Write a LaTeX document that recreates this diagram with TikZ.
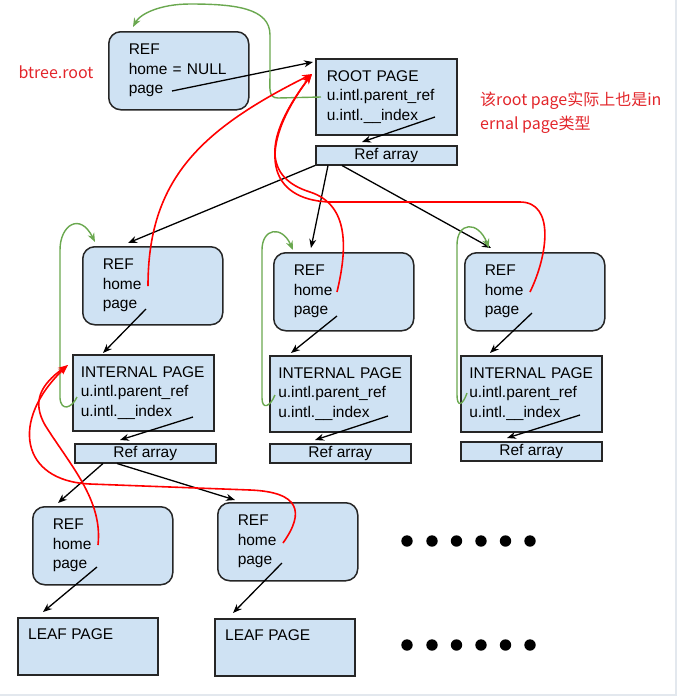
\documentclass[tikz,border=0pt]{standalone}
\usepackage{fontspec}
\setmainfont{Liberation Sans}
\newfontfamily\cjk{Noto Sans CJK SC}
\usetikzlibrary{arrows.meta,calc}
\definecolor{boxblue}{HTML}{CFE2F3}
\definecolor{edgegreen}{HTML}{6AA84F}
\definecolor{edgered}{HTML}{FF0000}
\definecolor{notered}{HTML}{E3262B}
\definecolor{framegray}{HTML}{E3E8EE}
\newcommand{\fs}{\fontsize{15.5}{19.5}\selectfont}
\begin{document}
\begin{tikzpicture}[x=1pt,y=-1pt,
  refbox/.style={draw=black!85, line width=1.5pt, fill=boxblue, rounded corners=12pt, minimum width=140pt, minimum height=78pt, anchor=north west, inner sep=0pt, text width=100pt, align=left, font=\fs},
  pagebox/.style={draw=black!85, line width=1.5pt, fill=boxblue, minimum width=141pt, minimum height=76pt, anchor=north west, inner sep=0pt, align=left, font=\fs},
  arraybox/.style={draw=black!85, line width=1.5pt, fill=boxblue, minimum width=141pt, minimum height=19pt, anchor=north west, inner sep=0pt, font=\fs},
  leafbox/.style={draw=black!85, line width=1.5pt, fill=boxblue, minimum width=140pt, minimum height=57pt, anchor=north west, inner sep=0pt},
  leaftext/.style={anchor=west, inner sep=0pt, font=\fs},
  ptr/.style={line width=1.3pt, black, -{Stealth[length=9pt,width=7pt]}},
  homeptr/.style={line width=1.6pt, edgered, -{Stealth[length=10pt,width=7pt]}},
  parentptr/.style={line width=1.4pt, edgegreen, -{Stealth[length=9pt,width=7pt]}},
  note/.style={text=notered, inner sep=0pt, font=\cjk\fontsize{16}{24}\selectfont},
]
\useasboundingbox (0,0) rectangle (678,697);
\fill[white] (0,0) rectangle (678,697);
\draw[framegray, line width=1.5pt] (676,0) -- (676,695) -- (0,695);

% boxes
\node[refbox] (ref0) at (108,31) {REF\\home = NULL\\page};
\node[pagebox, text width=119pt] (root) at (315,58) {ROOT PAGE\\u.intl.parent\_ref\\u.intl.\_\_index};
\node[arraybox] (ra0) at (315,145) {Ref array};

\node[refbox] (ref1) at (82,246) {REF\\home\\page};
\node[refbox] (ref2) at (273,252) {REF\\home\\page};
\node[refbox] (ref3) at (464,252) {REF\\home\\page};

\node[pagebox, text width=125pt] (int1) at (72,354) {INTERNAL PAGE\\u.intl.parent\_ref\\u.intl.\_\_index};
\node[pagebox, text width=124pt] (int2) at (269,355) {INTERNAL PAGE\\u.intl.parent\_ref\\u.intl.\_\_index};
\node[pagebox, text width=124pt] (int3) at (460,355) {INTERNAL PAGE\\u.intl.parent\_ref\\u.intl.\_\_index};

\node[arraybox] (ra1) at (74,443) {Ref array};
\node[arraybox] (ra2) at (269,443) {Ref array};
\node[arraybox] (ra3) at (460,441) {Ref array};

\node[refbox] (ref4) at (32,506) {REF\\home\\page};
\node[refbox] (ref5) at (217,502) {REF\\home\\page};

\node[leafbox] (leaf1) at (17,617) {};
\node[leafbox] (leaf2) at (214,618) {};
\node[leaftext] (leaf1t) at ($(leaf1.north west)+(11,17)$) {LEAF PAGE};
\node[leaftext] (leaf2t) at ($(leaf2.north west)+(11,17)$) {LEAF PAGE};

% notes
\node[note] (btr) at (56,72) {btree.root};
\node[note, anchor=west, align=left] (cn) at (480,113) {该root page实际上也是in\\ernal page类型};

% dots
\foreach \x in {407,432,456.5,481,505.5,530}{
  \fill (\x,541) circle (5.7pt);
  \fill (\x,645) circle (5.7pt);
}

% pointer start coordinates
\coordinate (p0) at (172,91);
\coordinate (i0) at (435,117);
\coordinate (g0) at (321,97);
\coordinate (h1) at (148,286);
\coordinate (p1) at (146,309);
\coordinate (h2) at (337,292);
\coordinate (p2) at (337,316);
\coordinate (h3) at (530,292);
\coordinate (p3) at (532,313);
\coordinate (g1) at (77,397);
\coordinate (i1) at (193,417);
\coordinate (g2) at (275,395);
\coordinate (i2) at (388,416);
\coordinate (g3) at (467,393);
\coordinate (i3) at (580,415);
\coordinate (h4) at (98,545);
\coordinate (p4) at (97,567);
\coordinate (h5) at (283,543);
\coordinate (p5) at (282,563);

% black pointers
\draw[ptr] (p0) -- ([shift={(-2,4)}]root.north west);
\draw[ptr] (i0) -- ([shift={(47,-3)}]ra0.north west);
\draw[ptr] (ra0.south west) -- ([shift={(46,-3)}]ref1.north west);
\draw[ptr] ([shift={(13,0)}]ra0.south west) -- ([shift={(38,-4)}]ref2.north west);
\draw[ptr] ([shift={(27,0)}]ra0.south west) -- ([shift={(27,-4)}]ref3.north west);
\draw[ptr] (p1) -- ([shift={(31,-1)}]int1.north west);
\draw[ptr] (p2) -- ([shift={(22,-2)}]int2.north west);
\draw[ptr] (p3) -- ([shift={(30,-2)}]int3.north west);
\draw[ptr] (i1) -- ([shift={(46,-3)}]ra1.north west);
\draw[ptr] (i2) -- ([shift={(46,-3)}]ra2.north west);
\draw[ptr] (i3) -- ([shift={(47,-3)}]ra3.north west);
\draw[ptr] ([shift={(29,0)}]ra1.south west) -- ([shift={(26,-3)}]ref4.north west);
\draw[ptr] ([shift={(43,0)}]ra1.south west) -- ([shift={(18,-2)}]ref5.north west);
\draw[ptr] (p4) -- ([shift={(26,-5)}]leaf1.north west);
\draw[ptr] (p5) -- ([shift={(19,-5)}]leaf2.north west);

% green parent_ref pointers
\draw[parentptr] (g0) -- (278,98) .. controls (268,98) and (270,88) .. (270,75) -- (270,35)
  .. controls (270,8) and (235,4) .. (190,4) .. controls (160,4) and (140,14) .. ([shift={(25,-4)}]ref0.north west);
\draw[parentptr] (g1) .. controls (72,408) and (61,412) .. (60,398) -- (60,250)
  .. controls (60,225) and (80,212) .. ([shift={(13,-4)}]ref1.north west);
\draw[parentptr] (g2) .. controls (270,407) and (262,410) .. (262,398) -- (262,250)
  .. controls (262,228) and (282,225) .. ([shift={(20,-2)}]ref2.north west);
\draw[parentptr] (g3) .. controls (463,405) and (457,408) .. (457,395) -- (457,245)
  .. controls (457,222) and (478,220) .. ([shift={(25,-4)}]ref3.north west);

% red home pointers
\coordinate (roottip) at ([shift={(-3,16)}]root.north west);
\coordinate (inttip) at ([shift={(-4,11)}]int1.north west);
\draw[homeptr] (h1) .. controls (148,180) and (200,130) .. (roottip);
\draw[homeptr] (h2) .. controls (347,250) and (350,205) .. (310,192) .. controls (265,178) and (262,140) .. (roottip);
\draw[homeptr] (h3) .. controls (548,255) and (555,202) .. (520,202) -- (330,202) .. controls (268,200) and (255,150) .. (roottip);
\draw[homeptr] (h5) .. controls (305,512) and (300,492) .. (250,490) -- (90,484) .. controls (20,481) and (10,420) .. (inttip);
\draw[homeptr] (h4) .. controls (103,500) and (70,465) .. (45,425) .. controls (32,402) and (40,385) .. (inttip);
\end{tikzpicture}
\end{document}
